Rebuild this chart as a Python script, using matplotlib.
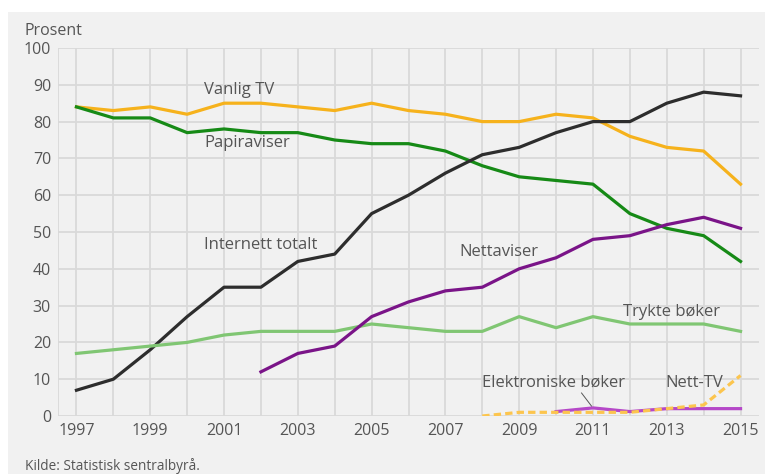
import matplotlib
matplotlib.use("Agg")
import matplotlib.pyplot as plt
from matplotlib.patches import Rectangle

years = list(range(1997, 2016))

vanlig_tv = [84, 83, 84, 82, 85, 85, 84, 83, 85, 83, 82, 80, 80, 82, 81, 76, 73, 72, 63]
papiraviser = [84, 81, 81, 77, 78, 77, 77, 75, 74, 74, 72, 68, 65, 64, 63, 55, 51, 49, 42]
internett = [7, 10, 18, 27, 35, 35, 42, 44, 55, 60, 66, 71, 73, 77, 80, 80, 85, 88, 87]
trykte_boker = [17, 18, 19, 20, 22, 23, 23, 23, 25, 24, 23, 23, 27, 24, 27, 25, 25, 25, 23]

nettaviser_years = list(range(2002, 2016))
nettaviser = [12, 17, 19, 27, 31, 34, 35, 40, 43, 48, 49, 52, 54, 51]

ebok_years = list(range(2010, 2016))
elektroniske_boker = [1.2, 2.2, 1.2, 2, 2, 2]

netttv_years = list(range(2008, 2016))
nett_tv = [0, 1, 1, 1, 1, 2, 3, 11]

plt.rcParams['font.family'] = ['Open Sans', 'DejaVu Sans']

fig = plt.figure(figsize=(7.65, 4.74), dpi=100)
fig.patch.set_facecolor('white')
fig.patches.append(Rectangle((8 / 765, 0), 1 - 8 / 765, 1 - 12 / 474,
                             transform=fig.transFigure, facecolor='#f1f1f1',
                             edgecolor='none', zorder=-10))

ax = fig.add_axes([58 / 765, 58 / 474, (759 - 58) / 765, (416 - 48) / 474])
ax.set_facecolor('none')
ax.set_xlim(1996.5, 2015.5)
ax.set_ylim(0, 100)

ax.set_xticks(years, minor=True)
ax.set_xticks(list(range(1997, 2016, 2)))
ax.set_yticks(list(range(0, 101, 10)))
ax.grid(True, which='both', axis='x', color='#d9d9d9', linewidth=1.3, zorder=1)
ax.grid(True, which='major', axis='y', color='#d9d9d9', linewidth=1.3, zorder=1)
ax.set_axisbelow(True)
ax.tick_params(which='both', length=0, labelsize=11.5, colors='#555555')
ax.tick_params(axis='x', pad=5)
ax.tick_params(axis='y', pad=5)
for s in ax.spines.values():
    s.set_visible(False)
ax.axvline(1996.5, color='#d9d9d9', linewidth=1.3, zorder=1)

lw = 2.3
ax.plot(years, vanlig_tv, color='#f6b21c', lw=lw, zorder=3)
ax.plot(years, papiraviser, color='#168a16', lw=lw, zorder=3)
ax.plot(years, internett, color='#2d2d2d', lw=lw, zorder=3)
ax.plot(years, trykte_boker, color='#80c673', lw=lw, zorder=3)
ax.plot(nettaviser_years, nettaviser, color='#7a1488', lw=lw, zorder=3)
ax.plot(ebok_years, elektroniske_boker, color='#b548c8', lw=lw, zorder=3)
ax.plot(netttv_years, nett_tv, color='#fcc54e', lw=lw, ls=(0, (2.3, 1.3)), zorder=4)

label_kw = dict(fontsize=12, color='#555555', va='center', ha='left', zorder=5)
ax.text(2000.47, 88.6, 'Vanlig TV', **label_kw)
ax.text(2000.47, 74.2, 'Papiraviser', **label_kw)
ax.text(2000.47, 46.5, 'Internett totalt', **label_kw)
ax.text(2007.38, 44.6, 'Nettaviser', **label_kw)
ax.text(2011.82, 28.3, 'Trykte bøker', **label_kw)
ax.text(2008.0, 9.0, 'Elektroniske bøker', **label_kw)
ax.text(2012.96, 9.0, 'Nett-TV', **label_kw)
ax.plot([2010.69, 2010.96], [6.25, 2.7], color='#555555', lw=0.7, zorder=5)

fig.text(25 / 765, 1 - 31 / 474, 'Prosent', fontsize=11.5, color='#555555',
         ha='left', va='center')
fig.text(25 / 765, 1 - 466 / 474, 'Kilde: Statistisk sentralbyrå.', fontsize=9.8,
         color='#555555', ha='left', va='center')

fig.savefig('out.png', dpi=100)
